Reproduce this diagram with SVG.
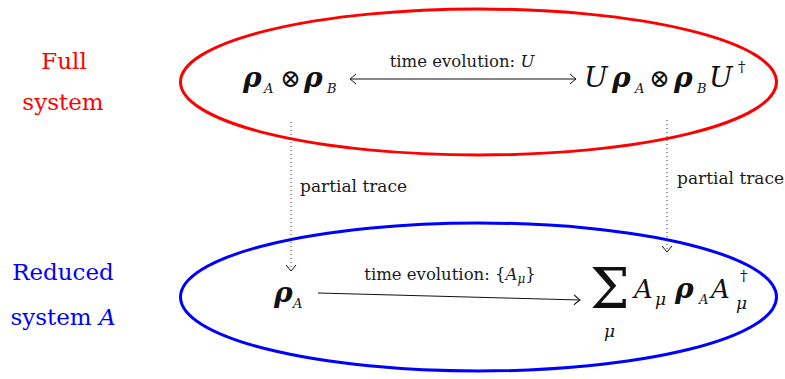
<svg xmlns="http://www.w3.org/2000/svg" width="785" height="379" viewBox="0 0 785 379">
<style>
.lbl{font-family:"DejaVu Serif","Liberation Serif",serif;fill:#1a1a1a}
.side{font-family:"DejaVu Serif","Liberation Serif",serif;font-size:23px;text-anchor:middle}
.rho{font-family:"DejaVu Serif","Liberation Serif",serif;font-weight:bold;font-style:italic;font-size:28px;fill:#111}
.it{font-family:"DejaVu Serif","Liberation Serif",serif;font-style:italic;fill:#111}
.up{font-family:"DejaVu Serif","Liberation Serif",serif;fill:#111}
.sub{font-family:"DejaVu Serif","Liberation Serif",serif;font-style:italic;font-size:13px;fill:#111}
.otimes{font-family:"DejaVu Serif","DejaVu Sans",serif;font-size:25px;fill:#111}
.conn{fill:none;stroke:#111;stroke-width:1}
.dot{fill:none;stroke:#333;stroke-width:1;stroke-dasharray:1 3}
</style>
<defs>
<marker id="hd" markerUnits="userSpaceOnUse" markerWidth="12" markerHeight="12" viewBox="-8 -6 10 12" refX="0" refY="0" orient="auto-start-reverse">
<path d="M -6 -5 Q -1.5 -1 0 0 Q -1.5 1 -6 5" fill="none" stroke="#111" stroke-width="1"/>
</marker>
</defs>
<g id="full-system-label">
<text class="side" fill="#ff0000" x="64" y="69">Full</text>
<text class="side" fill="#ff0000" x="63" y="110">system</text>
</g>
<g id="reduced-system-label">
<text class="side" fill="#0000ff" x="63" y="280">Reduced</text>
<text class="side" fill="#0000ff" x="63" y="325">system <tspan font-style="italic">A</tspan></text>
</g>
<g id="full-system">
<ellipse cx="478.5" cy="82" rx="298" ry="73" fill="none" stroke="#ff0000" stroke-width="3"/>
</g>
<g id="reduced-system">
<ellipse cx="478.5" cy="297" rx="298" ry="74" fill="none" stroke="#0000ff" stroke-width="3"/>
</g>
<g id="rhoA-otimes-rhoB">
<text class="rho" x="243" y="87">ρ</text>
<text class="sub" x="264" y="93">A</text>
<text class="otimes" x="280" y="87">⊗</text>
<text class="rho" x="304" y="87">ρ</text>
<text class="sub" x="327" y="93">B</text>
</g>
<g id="U-rho-U-dagger">
<text class="it" font-size="28" x="584" y="87">U</text>
<text class="rho" x="612" y="87">ρ</text>
<text class="sub" x="635" y="93">A</text>
<text class="otimes" x="649" y="87">⊗</text>
<text class="rho" x="674" y="87">ρ</text>
<text class="sub" x="697" y="93">B</text>
<text class="it" font-size="28" x="709" y="87">U</text>
<text class="up" font-size="15" x="738" y="72">†</text>
</g>
<g id="rhoA">
<text class="rho" x="274" y="302">ρ</text>
<text class="sub" x="293" y="308">A</text>
</g>
<g id="kraus-sum">
<text class="up" font-size="56" x="590" y="308">Σ</text>
<text class="it" font-size="17" x="604" y="337">μ</text>
<text class="it" font-size="26" x="634" y="298">A</text>
<text class="it" font-size="17" x="655" y="305">μ</text>
<text class="rho" x="675" y="298">ρ</text>
<text class="sub" x="699" y="304">A</text>
<text class="it" font-size="26" x="711" y="298">A</text>
<text class="up" font-size="15" x="740" y="281">†</text>
<text class="it" font-size="17" x="736" y="309">μ</text>
</g>
<g id="connectors">
<path class="conn" d="M 350 79 L 576 79" marker-start="url(#hd)" marker-end="url(#hd)"/>
<text class="lbl" font-size="16.5" x="462" y="67" text-anchor="middle">time evolution: <tspan font-style="italic">U</tspan></text>
<path class="conn" d="M 318 293 L 580 300" marker-end="url(#hd)"/>
<text class="lbl" font-size="16.5" x="450" y="280" text-anchor="middle">time evolution: {<tspan font-style="italic">A</tspan><tspan font-style="italic" font-size="12" dy="3">μ</tspan><tspan dy="-3">}</tspan></text>
<path class="dot" d="M 291 122 L 291 270"/>
<path class="conn" d="M 286 265 L 291 271 L 296 265"/>
<text class="lbl" font-size="17" x="300" y="192">partial trace</text>
<path class="dot" d="M 667 120 L 667 251"/>
<path class="conn" d="M 662 246 L 667 252 L 672 246"/>
<text class="lbl" font-size="17" x="677" y="184">partial trace</text>
</g>
</svg>
